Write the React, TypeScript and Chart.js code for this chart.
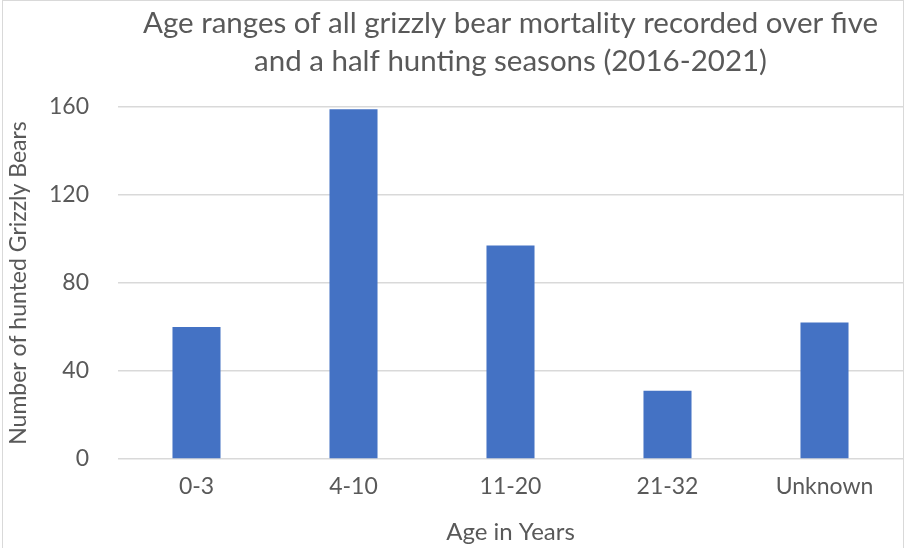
import React, { useEffect, useRef } from "react";
import { Chart, registerables } from "chart.js";

Chart.register(...registerables);

const titleLines = [
  "Age ranges of all grizzly bear mortality recorded over five",
  "and a half hunting seasons (2016-2021)",
];
const categories = ["0-3", "4-10", "11-20", "21-32", "Unknown"];
const bearCounts = [60, 159, 97, 31, 62];
const yTicks = [0, 40, 80, 120, 160];
const xTitle = "Age in Years";
const yTitle = "Number of hunted Grizzly Bears";

const FONT = "Lato, 'Open Sans', sans-serif";
const TEXT = "#595959";

const titlePlugin = {
  id: "customTitle",
  afterDraw(chart: any) {
    const ctx = chart.ctx;
    const ca = chart.chartArea;
    const cx = (ca.left + ca.right) / 2;
    ctx.save();
    ctx.font = `29.5px ${FONT}`;
    ctx.fillStyle = TEXT;
    ctx.textAlign = "center";
    ctx.textBaseline = "alphabetic";
    ctx.fillText(titleLines[0], cx, 33);
    ctx.fillText(titleLines[1], cx, 71);
    ctx.restore();
  },
};

export default function App() {
  const ref = useRef<HTMLCanvasElement | null>(null);
  useEffect(() => {
    if (!ref.current) return;
    const chart = new Chart(ref.current, {
      type: "bar",
      data: {
        labels: categories,
        datasets: [
          {
            data: bearCounts,
            backgroundColor: "#4472C4",
            barPercentage: 0.612,
            categoryPercentage: 0.5,
          },
        ],
      },
      plugins: [titlePlugin],
      options: {
        animation: false,
        responsive: true,
        maintainAspectRatio: false,
        layout: { padding: { top: 107, right: 2, left: 0, bottom: 0 } },
        plugins: {
          legend: { display: false },
          title: { display: false },
          tooltip: { enabled: false },
        },
        scales: {
          x: {
            grid: { display: false, drawTicks: false },
            border: { display: false },
            ticks: {
              color: TEXT,
              font: { family: FONT, size: 23 },
              padding: 14,
            },
            title: {
              display: true,
              text: xTitle,
              color: TEXT,
              font: { family: FONT, size: 24 },
              padding: { top: 0, bottom: 1 },
            },
            afterFit: (s: any) => {
              s.height = 89;
            },
          },
          y: {
            min: 0,
            max: 160,
            grid: { color: "#d9d9d9", lineWidth: 1.5, drawTicks: false },
            border: { display: false },
            afterBuildTicks: (s: any) => {
              s.ticks = yTicks.map((v) => ({ value: v }));
            },
            ticks: {
              color: TEXT,
              font: { family: FONT, size: 23 },
              padding: 29,
            },
            title: {
              display: true,
              text: yTitle,
              color: TEXT,
              font: { family: FONT, size: 23 },
              padding: { top: 5, bottom: 0 },
            },
            afterFit: (s: any) => {
              s.width = 118;
            },
          },
        },
      },
    });
    return () => chart.destroy();
  }, []);

  return (
    <div
      style={{
        position: "fixed",
        left: 0,
        top: 0,
        width: 905,
        height: 548,
        background: "#fff",
        overflow: "hidden",
      }}
    >
      <div
        style={{
          position: "absolute",
          left: 2,
          top: 0,
          width: 902,
          height: 600,
          boxSizing: "border-box",
          border: "1px solid #d9d9d9",
          pointerEvents: "none",
        }}
      />
      <canvas ref={ref} width={905} height={548} />
    </div>
  );
}
